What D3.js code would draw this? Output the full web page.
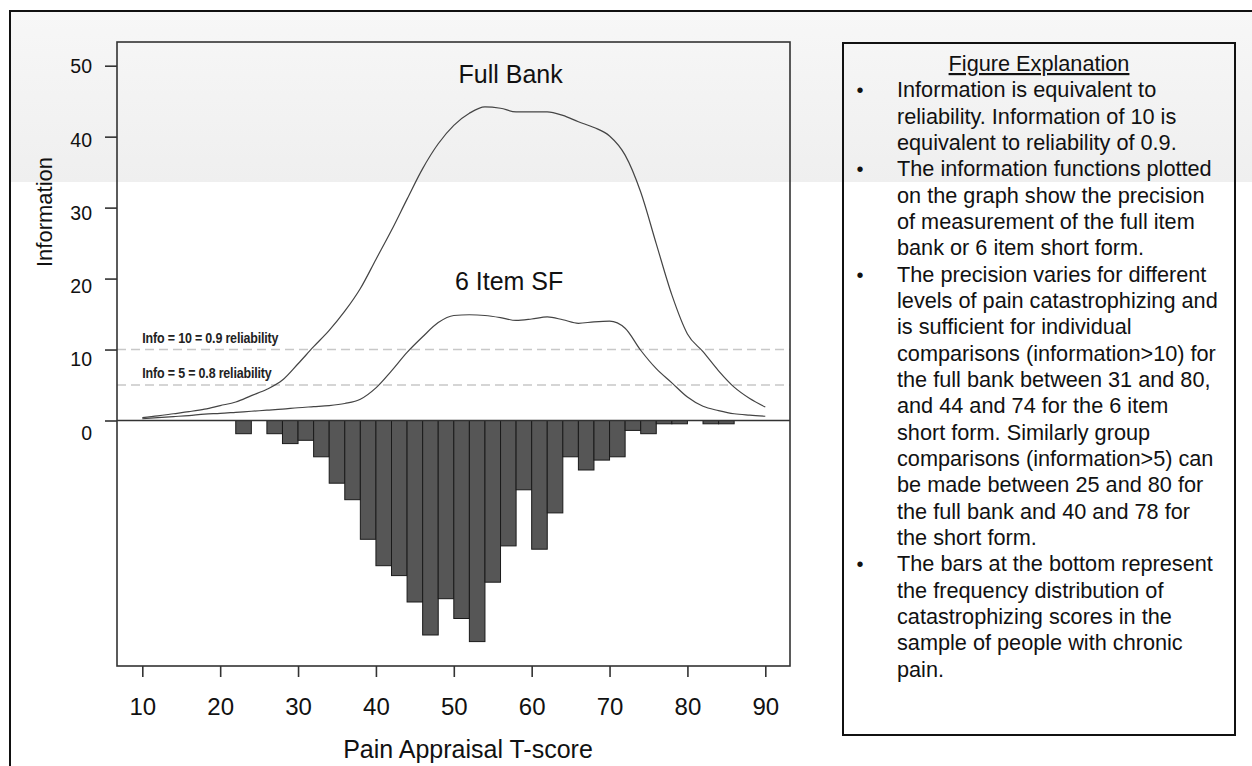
<!DOCTYPE html>
<html>
<head>
<meta charset="utf-8">
<script src="https://cdn.jsdelivr.net/npm/d3@7"></script>
<style>
  html, body { margin: 0; padding: 0; background: #fff; }
  svg { display: block; font-family: "Liberation Sans", Arial, sans-serif; }
</style>
</head>
<body>
<svg id="chart" width="1252" height="766"></svg>
<script>
// T-score grid for the information curves
const tScores = [10, 12, 14, 16, 18, 20, 22, 24, 26, 28, 30, 32, 34, 36, 38, 40, 42, 44, 46, 48, 50,
                 52, 54, 56, 58, 60, 62, 64, 66, 68, 70, 72, 74, 76, 78, 80, 82, 84, 86, 88, 90];
const fullBankInfo = [0.4, 0.65, 0.95, 1.25, 1.6, 2.1, 2.6, 3.5, 4.4, 5.7, 8.0, 10.4, 12.7, 15.4, 18.6, 22.7, 26.8, 31.2, 35.5, 39.0, 41.6,
                      43.3, 44.2, 44.0, 43.5, 43.5, 43.5, 43.0, 42.1, 41.3, 40.1, 37.4, 32.2, 24.9, 17.7, 12.2, 9.7, 7.0, 4.7, 3.1, 1.9];
const shortFormInfo = [0.25, 0.4, 0.55, 0.7, 0.9, 1.0, 1.15, 1.3, 1.45, 1.6, 1.8, 1.95, 2.1, 2.4, 3.0, 4.6, 7.0, 9.6, 11.8, 13.8, 14.8,
                       14.9, 14.8, 14.5, 14.1, 14.3, 14.6, 14.2, 13.7, 13.9, 14.0, 13.0, 9.9, 7.3, 5.3, 3.3, 2.0, 1.4, 0.95, 0.75, 0.6];

// histogram of observed scores (bins 2 T-score units wide)
const binStarts = [22, 24, 26, 28, 30, 32, 34, 36, 38, 40, 42, 44, 46, 48, 50, 52,
                   54, 56, 58, 60, 62, 64, 66, 68, 70, 72, 74, 76, 78, 80, 82, 84];
const binCounts = [4, 0, 4, 7, 6, 11, 19, 24, 36, 44, 47, 55, 65, 54, 60, 67,
                   49, 38, 21, 39, 28, 11, 15, 12, 11, 3, 4, 1, 1, 0, 1, 1];
const binWidth = 2;

const xTicks = [10, 20, 30, 40, 50, 60, 70, 80, 90];
const yTicks = [0, 10, 20, 30, 40, 50];

const refLines = [10, 5];
const refLabels = ['Info = 10 = 0.9 reliability', 'Info = 5 = 0.8 reliability'];

const explanationTitle = 'Figure Explanation';
const explanationLines = [
  'Information is equivalent to',
  'reliability. Information of 10 is',
  'equivalent to reliability of 0.9.',
  'The information functions plotted',
  'on the graph show the precision',
  'of measurement of the full item',
  'bank or 6 item short form.',
  'The precision varies for different',
  'levels of pain catastrophizing and',
  'is sufficient for individual',
  'comparisons (information>10) for',
  'the full bank between 31 and 80,',
  'and 44 and 74 for the 6 item',
  'short form. Similarly group',
  'comparisons (information>5) can',
  'be made between 25 and 80 for',
  'the full bank and 40 and 78 for',
  'the short form.',
  'The bars at the bottom represent',
  'the frequency distribution of',
  'catastrophizing scores in the',
  'sample of people with chronic',
  'pain.'
];
const bulletLines = [0, 3, 7, 18];

const svg = d3.select('#chart');

// background band at the top
const defs = svg.append('defs');
const grad = defs.append('linearGradient').attr('id', 'band').attr('x1', 0).attr('x2', 0).attr('y1', 0).attr('y2', 1);
grad.append('stop').attr('offset', 0).attr('stop-color', '#f7f7f7');
grad.append('stop').attr('offset', 1).attr('stop-color', '#efefef');
svg.append('rect').attr('x', 10).attr('y', 11).attr('width', 1242).attr('height', 171).attr('fill', 'url(#band)');

// outer frame (top and left only)
svg.append('path').attr('d', 'M10,766 V11 H1252').attr('fill', 'none').attr('stroke', '#111').attr('stroke-width', 2);

const box = { left: 117, right: 790, top: 42, bottom: 666 };

const x = d3.scaleLinear().domain([10, 90]).range([142.3, 765.3]);
const y = d3.scaleLinear().domain([0, 50]).range([420.5, 65.7]);
// tick labels sit slightly lower than their tick marks in the original
const yLab = d3.scaleLinear().domain([0, 50]).range([433, 66.7]);
const freq = d3.scaleLinear().domain([0, 100]).range([y(0), y(0) + 330]);

// reference lines
svg.append('g').selectAll('line')
  .data(refLines)
  .enter()
  .append('line')
  .attr('x1', box.left).attr('x2', box.right)
  .attr('y1', d => y(d)).attr('y2', d => y(d))
  .attr('stroke', '#c8c8c8').attr('stroke-width', 1.4).attr('stroke-dasharray', '9,5');

// condensed bold labels above the reference lines
svg.append('g').selectAll('text')
  .data(refLines)
  .enter()
  .append('text')
  .attr('transform', d => `translate(${x(10)},${y(d) - 7}) scale(0.86,1)`)
  .attr('font-size', 14.5).attr('font-weight', 'bold').attr('letter-spacing', -0.2)
  .attr('fill', '#222')
  .text((d, i) => refLabels[i]);

// histogram bars hanging below zero
svg.append('g').selectAll('rect')
  .data(binStarts.map((s, i) => ({ start: s, count: binCounts[i] })).filter(d => d.count > 0))
  .enter()
  .append('rect')
  .attr('x', d => x(d.start))
  .attr('y', y(0))
  .attr('width', d => x(d.start + binWidth) - x(d.start))
  .attr('height', d => freq(d.count) - y(0))
  .attr('fill', '#565656')
  .attr('stroke', '#1a1a1a')
  .attr('stroke-width', 1);

// zero line
svg.append('line')
  .attr('x1', box.left).attr('x2', box.right)
  .attr('y1', y(0)).attr('y2', y(0))
  .attr('stroke', '#333').attr('stroke-width', 1.6);

// information curves
const line = d3.line()
  .x((d, i) => x(tScores[i]))
  .y(d => y(d))
  .curve(d3.curveMonotoneX);

[fullBankInfo, shortFormInfo].forEach(series => {
  svg.append('path')
    .datum(series)
    .attr('d', line)
    .attr('fill', 'none')
    .attr('stroke', '#444')
    .attr('stroke-width', 1.2);
});

svg.append('text').attr('x', x(57.3)).attr('y', y(47.6)).attr('text-anchor', 'middle')
  .attr('font-size', 25).attr('fill', '#111').text('Full Bank');
svg.append('text').attr('x', x(57.1)).attr('y', y(18.4)).attr('text-anchor', 'middle')
  .attr('font-size', 25).attr('fill', '#111').text('6 Item SF');

// plot box
svg.append('rect')
  .attr('x', box.left).attr('y', box.top)
  .attr('width', box.right - box.left).attr('height', box.bottom - box.top)
  .attr('fill', 'none').attr('stroke', '#333').attr('stroke-width', 1.6);

// axes
const xAxis = svg.append('g')
  .attr('transform', `translate(0,${box.bottom})`)
  .call(d3.axisBottom(x).tickValues(xTicks).tickSize(11).tickPadding(21).tickFormat(d3.format('d')));
xAxis.select('.domain').remove();
xAxis.selectAll('line').attr('stroke', '#333').attr('stroke-width', 1.6);
xAxis.selectAll('text').attr('font-size', 24).attr('fill', '#111').attr('font-family', null);

const yTickAxis = svg.append('g')
  .attr('transform', `translate(${box.left},0)`)
  .call(d3.axisLeft(y).tickValues(yTicks).tickSize(12).tickFormat(''));
yTickAxis.select('.domain').remove();
yTickAxis.selectAll('line').attr('stroke', '#333').attr('stroke-width', 1.6);

const yLabAxis = svg.append('g')
  .attr('transform', `translate(${box.left},0)`)
  .call(d3.axisLeft(yLab).tickValues(yTicks).tickSize(0).tickPadding(25).tickFormat(d3.format('d')));
yLabAxis.select('.domain').remove();
yLabAxis.selectAll('text').attr('font-size', 19.5).attr('fill', '#111').attr('font-family', null);

svg.append('text')
  .attr('transform', 'translate(52,212) rotate(-90)')
  .attr('text-anchor', 'middle')
  .attr('font-size', 22).attr('fill', '#111')
  .text('Information');

svg.append('text')
  .attr('x', 468).attr('y', 758)
  .attr('text-anchor', 'middle')
  .attr('font-size', 25).attr('fill', '#111')
  .text('Pain Appraisal T-score');

// explanation panel
const panel = { left: 843, top: 43, right: 1235, bottom: 735 };
svg.append('rect')
  .attr('x', panel.left).attr('y', panel.top)
  .attr('width', panel.right - panel.left).attr('height', panel.bottom - panel.top)
  .attr('fill', 'none').attr('stroke', '#111').attr('stroke-width', 2);

svg.append('text')
  .attr('x', (panel.left + panel.right) / 2).attr('y', 71)
  .attr('text-anchor', 'middle')
  .attr('font-size', 21.7).attr('fill', '#111')
  .attr('text-decoration', 'underline')
  .text(explanationTitle);

const lineHeight = 26.34;
svg.append('g').selectAll('text')
  .data(explanationLines)
  .enter()
  .append('text')
  .attr('x', 897)
  .attr('y', (d, i) => 97.3 + i * lineHeight)
  .attr('font-size', 21.7).attr('fill', '#111')
  .text(d => d);

svg.append('g').selectAll('text')
  .data(bulletLines)
  .enter()
  .append('text')
  .attr('x', 860)
  .attr('y', d => 97.3 + d * lineHeight)
  .attr('text-anchor', 'middle')
  .attr('font-size', 20).attr('fill', '#111')
  .text('\u2022');
</script>
</body>
</html>
